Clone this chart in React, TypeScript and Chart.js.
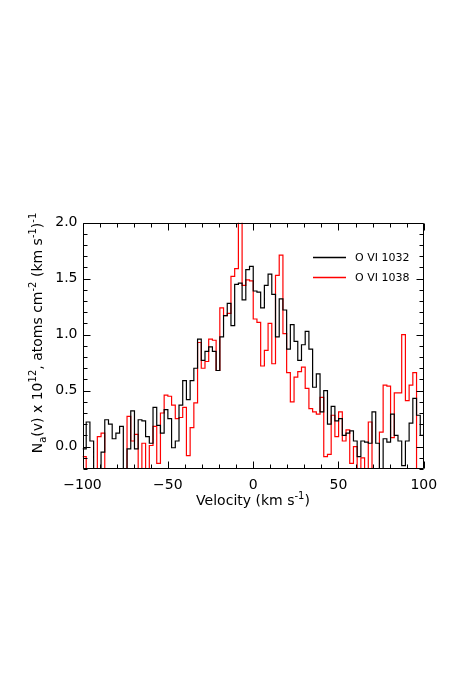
import React, { useEffect, useRef } from "react";
import { Chart, registerables } from "chart.js";

Chart.register(...registerables);

// Velocity bins (km/s): left edge of first bin and bin width
const binStart = -100;
const binWidth = 2.175;

// Apparent column density profiles, N_a(v) in 1e12 atoms cm^-2 (km/s)^-1
const ovi1032 = [
  -0.02, 0.22, 0.05, -0.3, -0.3, -0.05, 0.24, 0.2, 0.07, 0.12,
  0.18, -0.3, -0.02, 0.32, -0.02, 0.24, 0.23, 0.09, 0.03, 0.35,
  0.19, 0.12, 0.33, 0.25, -0.01, 0.05, 0.37, 0.59, 0.42, 0.59,
  0.7, 0.96, 0.77, 0.85, 0.89, 0.85, 0.68, 0.98, 1.17, 1.28,
  1.08, 1.45, 1.46, 1.31, 1.58, 1.61, 1.39, 1.38, 1.24, 1.44,
  1.54, 1.36, 0.98, 1.32, 1.22, 0.87, 1.09, 0.94, 0.77, 0.91,
  1.03, 0.87, 0.53, 0.65, 0.31, 0.5, 0.2, 0.36, 0.23, 0.25,
  0.1, 0.12, 0.14, 0.05, -0.09, 0.05, 0.04, 0.03, 0.31, 0.03,
  -0.25, 0.07, 0.04, 0.29, 0.1, 0.05, -0.17, 0.05, 0.21, 0.43,
  0.28, 0.1,
];

const ovi1038 = [
  -0.09, -0.3, -0.3, -0.3, 0.09, 0.12, -0.3, -0.3, -0.3, -0.3,
  -0.3, -0.3, 0.27, 0.05, 0.11, -0.3, 0.03, -0.3, 0.01, 0.18,
  -0.15, 0.3, 0.46, 0.45, 0.37, 0.25, 0.26, 0.35, -0.08, 0.17,
  0.39, 0.93, 0.7, 0.76, 0.96, 0.95, 0.68, 1.24, 1.17, 1.19,
  1.52, 1.59, 2.4, 1.44, 1.49, 1.48, 1.14, 1.11, 0.72, 0.86,
  1.1, 0.74, 1.53, 1.71, 1.01, 0.66, 0.4, 0.62, 0.67, 0.71,
  0.52, 0.34, 0.31, 0.29, 0.44, -0.09, -0.07, 0.28, 0.09, 0.31,
  0.05, 0.15, -0.15, 0.0, -0.3, -0.1, -0.3, 0.22, -0.3, -0.3,
  0.13, 0.55, 0.54, 0.08, 0.48, 0.48, 1.0, 0.41, 0.55, 0.66,
  -0.3, -0.3,
];

const seriesLabels = ["O VI 1032", "O VI 1038"];
const seriesColors = ["#000000", "#ff0000"];
const xTickValues = [-100, -50, 0, 50, 100];
const yTickValues = [0, 0.5, 1, 1.5, 2];

const FONT = "'DejaVu Sans', sans-serif";

type Seg = { t: string; k: "n" | "sup" | "sub" };

const xTitle: Seg[] = [
  { t: "Velocity (km s", k: "n" },
  { t: "-1", k: "sup" },
  { t: ")", k: "n" },
];

const yTitle: Seg[] = [
  { t: "N", k: "n" },
  { t: "a", k: "sub" },
  { t: "(v) x 10", k: "n" },
  { t: "12", k: "sup" },
  { t: ", atoms cm", k: "n" },
  { t: "-2", k: "sup" },
  { t: " (km s", k: "n" },
  { t: "-1", k: "sup" },
  { t: ")", k: "n" },
  { t: "-1", k: "sup" },
];

function stepPoints(values: number[]) {
  const pts = values.map((v, i) => ({ x: binStart + i * binWidth, y: v }));
  pts.push({ x: binStart + values.length * binWidth, y: values[values.length - 1] });
  return pts;
}

function drawRich(ctx: CanvasRenderingContext2D, segs: Seg[], x: number, y: number) {
  const big = 14;
  const small = 10;
  const widths = segs.map((s) => {
    ctx.font = `${s.k === "n" ? big : small}px ${FONT}`;
    return ctx.measureText(s.t).width;
  });
  const total = widths.reduce((a, b) => a + b, 0);
  let cx = x - total / 2;
  segs.forEach((s, i) => {
    ctx.font = `${s.k === "n" ? big : small}px ${FONT}`;
    const dy = s.k === "sup" ? -6 : s.k === "sub" ? 4 : 0;
    ctx.fillText(s.t, cx, y + dy);
    cx += widths[i];
  });
}

const framePlugin = {
  id: "idlFrame",
  afterDatasetsDraw(chart: any) {
    const { ctx, chartArea: a, scales } = chart;
    const xs = scales.x;
    const ys = scales.y;
    const L = Math.round(a.left) + 0.5;
    const R = Math.round(a.right) - 0.5;
    const T = Math.round(a.top) + 0.5;
    const B = Math.round(a.bottom) - 0.5;
    ctx.save();
    ctx.strokeStyle = "#000";
    ctx.lineWidth = 1;
    ctx.beginPath();
    ctx.rect(L, T, R - L, B - T);
    for (let v = -100; v <= 100; v += 10) {
      const x = Math.round(xs.getPixelForValue(v)) + 0.5;
      const len = v % 50 === 0 ? 7 : 4;
      ctx.moveTo(x, B);
      ctx.lineTo(x, B - len);
      ctx.moveTo(x, T);
      ctx.lineTo(x, T + len);
    }
    for (let i = -2; i <= 20; i++) {
      const y = Math.round(ys.getPixelForValue(i / 10)) + 0.5;
      const len = i % 5 === 0 ? 7 : 4;
      ctx.moveTo(L, y);
      ctx.lineTo(L + len, y);
      ctx.moveTo(R, y);
      ctx.lineTo(R - len, y);
    }
    ctx.stroke();
    ctx.restore();

    // legend
    const legX0 = 313;
    const legX1 = 346;
    const legTextX = 355;
    const legY = [257.5, 277.5];
    seriesLabels.forEach((lab, i) => {
      ctx.save();
      ctx.beginPath();
      ctx.strokeStyle = seriesColors[i];
      ctx.lineWidth = 1.3;
      ctx.moveTo(legX0, legY[i]);
      ctx.lineTo(legX1, legY[i]);
      ctx.stroke();
      ctx.restore();
      ctx.save();
      ctx.fillStyle = "#000";
      ctx.font = `11px ${FONT}`;
      ctx.textBaseline = "middle";
      ctx.textAlign = "left";
      ctx.fillText(lab, legTextX, legY[i] + 0.5);
      ctx.restore();
    });

    // axis titles
    ctx.save();
    ctx.fillStyle = "#000";
    ctx.textBaseline = "alphabetic";
    ctx.textAlign = "left";
    drawRich(ctx, xTitle, 253, 505);
    ctx.translate(42, 333);
    ctx.rotate(-Math.PI / 2);
    drawRich(ctx, yTitle, 0, 0);
    ctx.restore();
  },
};

export default function App() {
  const ref = useRef<HTMLCanvasElement | null>(null);

  useEffect(() => {
    if (!ref.current) return;
    Chart.defaults.font.family = FONT;
    Chart.defaults.color = "#000";
    const chart = new Chart(ref.current, {
      type: "line",
      data: {
        datasets: [
          {
            label: seriesLabels[0],
            data: stepPoints(ovi1032),
            borderColor: seriesColors[0],
            borderWidth: 1.2,
            pointRadius: 0,
            stepped: "before",
            fill: false,
          },
          {
            label: seriesLabels[1],
            data: stepPoints(ovi1038),
            borderColor: seriesColors[1],
            borderWidth: 1.2,
            pointRadius: 0,
            stepped: "before",
            fill: false,
          },
        ],
      },
      options: {
        animation: false,
        responsive: false,
        devicePixelRatio: 1,
        parsing: false,
        layout: { padding: { left: 0, right: 32.2, top: 222.7, bottom: 203 } },
        plugins: {
          legend: { display: false },
          tooltip: { enabled: false },
          title: { display: false },
        },
        scales: {
          x: {
            type: "linear",
            min: -100,
            max: 100,
            grid: { display: false, drawTicks: false },
            border: { display: false },
            afterBuildTicks: (s: any) => {
              s.ticks = xTickValues.map((value) => ({ value }));
            },
            afterFit: (s: any) => {
              s.height = 20;
            },
            ticks: {
              autoSkip: false,
              maxRotation: 0,
              padding: 8,
              color: "#000",
              font: { size: 14, family: FONT },
              callback: (v: any) => (v < 0 ? "\u2212" + Math.abs(v) : String(v)),
            },
          },
          y: {
            type: "linear",
            min: -0.2,
            max: 2.0,
            grid: { display: false, drawTicks: false },
            border: { display: false },
            afterBuildTicks: (s: any) => {
              s.ticks = yTickValues.map((value) => ({ value }));
            },
            afterFit: (s: any) => {
              s.width = 82.5;
            },
            ticks: {
              padding: 5,
              color: "#000",
              font: { size: 14, family: FONT },
              callback: (v: any) => Number(v).toFixed(1),
            },
          },
        },
      },
      plugins: [framePlugin],
    } as any);
    return () => chart.destroy();
  }, []);

  return (
    <div style={{ position: "absolute", left: 0, top: 0, width: 456, height: 692, background: "#fff" }}>
      <canvas ref={ref} width={456} height={692} style={{ display: "block", width: 456, height: 692 }} />
    </div>
  );
}
